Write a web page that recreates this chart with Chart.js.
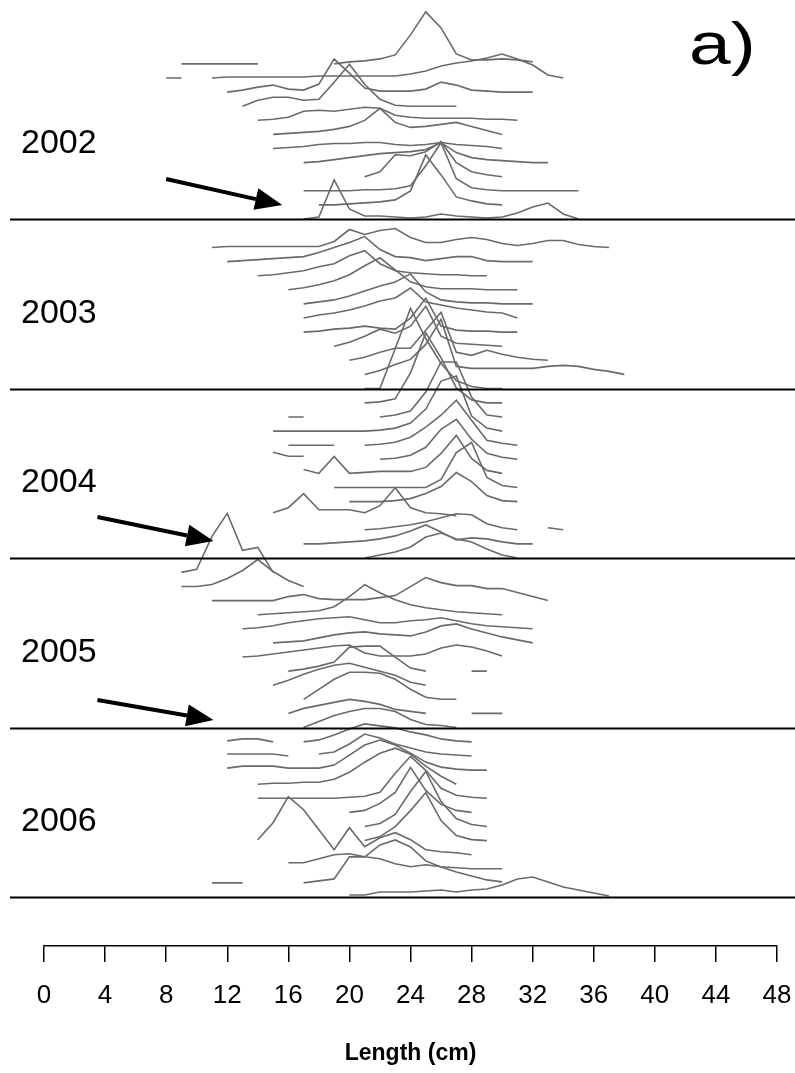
<!DOCTYPE html>
<html lang="en">
<head>
<meta charset="UTF-8">
<title>Length frequency by month, 2002-2006</title>
<script src="https://cdn.jsdelivr.net/npm/chart.js"></script>
<style>
  body { margin: 0; background: #fff; }
  #wrap { width: 795px; height: 1073px; }
</style>
</head>
<body>
<div id="wrap"><canvas id="chart" width="795" height="1073"></canvas></div>
<script>
// tick labels on the length axis
const xTicks = [0, 4, 8, 12, 16, 20, 24, 28, 32, 36, 40, 44, 48];
const years = ['2002', '2003', '2004', '2005', '2006'];

// one ridge per month: first length class (cm) and the frequency of every 1-cm class after it
// null = empty class where the line breaks
const start2002 = [9, 8, 12, 13, 14, 15, 15, 17, 21, 17, 18, 17];
const freq2002 = [
  [0,0,0,0,0,0,null,null,null,null,0,2,3,5,9,29,52,36,10,4,4,5,4,2],
  [0,0,null,0,1,1,1,1,1,1,2,2,2,2,2,2,4,7,12,15,17,20,24,19,13,3,0],
  [0,2,5,7,3,2,8,33,19,4,1,1,1,3,10,7,2,1,0,0,0],
  [0,6,9,9,6,7,24,42,22,7,1,0,0,0,0],
  [0,1,3,9,10,9,11,13,12,5,3,2,2,2,2,1,1,0],
  [0,1,2,3,5,8,14,26,12,7,8,10,12,8,4,0],
  [0,1,2,4,5,5,6,6,4,3,4,6,4,3,2,0],
  [0,1,3,5,7,9,10,11,13,20,10,5,3,2,1,0,0],
  [0,5,22,21,25,35,14,5,2,0],
  [0,0,0,0,1,1,2,5,25,48,12,3,1,0,0,0,0,0,0],
  [0,0,1,2,3,5,14,50,30,8,4,1,0],
  [0,2,39,10,3,3,2,1,2,5,3,2,1,2,6,12,16,5,0]
];

const start2003 = [null, 11, 12, 14, 16, 17, 17, 17, 19, 20, 21, 21];
const freq2003 = [
  [],
  [0,1,1,1,1,1,1,1,6,18,13,17,19,10,5,5,8,10,8,4,2,4,7,7,3,1,0],
  [0,1,2,3,4,5,9,14,19,25,12,5,4,1,3,5,5,1,0,0,0],
  [0,1,3,5,9,12,20,25,12,5,3,2,1,1,0,0],
  [0,2,5,9,15,24,32,20,8,3,1,1,1,0,0,0],
  [0,2,4,8,13,18,22,30,12,4,2,1,1,0,0,0],
  [0,3,5,8,12,17,20,30,16,13,10,8,6,5,0],
  [0,1,3,4,6,4,3,14,34,6,2,1,1,0,0],
  [0,4,10,17,13,20,40,10,3,2,1,0],
  [0,3,8,12,12,30,48,8,5,10,6,3,1,0],
  [0,4,10,15,30,55,8,6,6,6,6,6,8,9,8,5,3,0],
  [0,0,40,80,50,25,8,2,0,0]
];

const start2004 = [21, 16, 15, 16, 15, 17, 19, 20, 15, 21, 17, 21];
const freq2004 = [
  [0,1,4,30,70,45,15,3,0,0],
  [0,0,null,null,null,null,0,2,6,25,55,55,20,2,0],
  [0,0,0,0,0,0,0,1,3,8,22,50,55,15,3,0],
  [0,0,0,0,null,0,1,3,8,18,30,45,25,5,2,0],
  [7,3,3,null,null,null,null,0,1,4,12,30,40,20,6,2,0],
  [4,0,17,0,1,2,2,2,6,20,38,15,3,0],
  [0,0,0,0,0,0,0,8,35,45,10,2,0],
  [0,0,0,1,3,8,15,29,20,6,1,0],
  [3,8,22,6,6,6,3,10,28,8,3,2,0],
  [0,1,3,5,8,12,16,15,6,2,0,null,2,0],
  [0,0,1,2,3,5,8,13,19,12,4,6,5,2,0,0],
  [0,3,6,11,21,25,19,16,9,3,0]
];

const start2005 = [9, 9, 11, 14, 13, 15, 13, 16, 15, 17, 16, 17];
const freq2005 = [
  [0,3,36,59,22,25,0],
  [0,0,2,8,16,27,15,6,0],
  [0,0,0,0,0,4,6,2,1,1,1,3,5,14,23,18,15,15,12,12,8,4,0],
  [0,1,2,3,4,8,18,30,22,15,10,7,5,3,2,1,0],
  [0,1,3,6,8,10,11,12,9,6,6,8,9,11,8,5,3,2,1,0],
  [0,1,2,5,8,10,11,9,8,7,11,17,19,14,10,6,3,0],
  [0,1,3,5,7,9,11,12,4,1,1,1,3,9,12,10,6,1],
  [0,2,5,9,24,25,25,14,3,0,null,null,0,0],
  [0,5,11,16,20,22,18,14,10,3,0],
  [0,10,20,27,27,26,20,10,2,0,0],
  [0,5,8,11,14,12,9,4,2,0,null,null,0,0,0],
  [0,6,12,16,19,19,16,8,3,2,0]
];

const start2006 = [12, 12, 12, 14, 14, 20, 21, 21, 14, 16, 11, 20];
const freq2006 = [
  [1,3,3,0,null,0,2,7,13,18,16,14,10,7,3,1,0],
  [2,2,2,2,0,null,2,4,12,22,18,12,8,4,2,1,0],
  [2,4,4,4,2,2,2,5,15,25,30,25,17,8,3,1,0,0],
  [0,1,1,2,2,5,12,22,31,36,30,18,8,0],
  [0,0,0,0,0,0,1,2,6,25,42,28,10,3,1,0],
  [0,2,9,20,45,22,8,2,0],
  [0,3,12,35,55,25,8,2,0],
  [0,4,14,30,48,20,5,1,0],
  [15,32,58,45,25,5,27,8,17,22,15,5,3,2,0],
  [6,6,10,14,15,12,10,5,2,4,2,1,0,0,0],
  [0,0,0,null,null,null,0,2,4,26,26,38,43,36,22,16,11,7,3,1],
  [2,2,5,5,5,6,7,5,7,8,12,18,20,15,10,7,4,1]
];

const starts = [start2002, start2003, start2004, start2005, start2006];
const freqs = [freq2002, freq2003, freq2004, freq2005, freq2006];

// vertical stacking: every year gets a band, every month a row inside it
const yearGap = 169.5;
const monthGap = 14.1;
const bottomSep = 49;
const sepOf = i => bottomSep + (4 - i) * yearGap;
const baseOf = (i, k) => sepOf(i) + (11 - k) * monthGap;

const datasets = [];
freqs.forEach((yearFreq, i) => {
  yearFreq.forEach((f, k) => {
    const s = starts[i][k];
    if (s === null) return;
    datasets.push({
      label: years[i] + '-' + (k + 1),
      data: f.map((v, j) => ({ x: s + j, y: v === null ? null : baseOf(i, k) + v })),
      borderColor: '#6a6a6a',
      borderWidth: 1.6,
      pointRadius: 0,
      tension: 0,
      spanGaps: false
    });
  });
});

function arrow(ctx, x1, y1, x2, y2) {
  const a = Math.atan2(y2 - y1, x2 - x1);
  const L = 27, W = 11;
  const bx = x2 - L * Math.cos(a), by = y2 - L * Math.sin(a);
  ctx.beginPath();
  ctx.moveTo(x1, y1);
  ctx.lineTo(bx, by);
  ctx.lineWidth = 4;
  ctx.stroke();
  ctx.beginPath();
  ctx.moveTo(x2, y2);
  ctx.lineTo(bx + W * Math.sin(a), by - W * Math.cos(a));
  ctx.lineTo(bx - W * Math.sin(a), by + W * Math.cos(a));
  ctx.closePath();
  ctx.fill();
}

const decorations = {
  id: 'decorations',
  afterDatasetsDraw(chart) {
    const ctx = chart.ctx;
    const sx = chart.scales.x, sy = chart.scales.y;
    ctx.save();
    ctx.strokeStyle = '#000';
    ctx.fillStyle = '#000';
    years.forEach((yr, i) => {
      const py = Math.round(sy.getPixelForValue(sepOf(i))) + 0.5;
      ctx.lineWidth = 1.8;
      ctx.beginPath();
      ctx.moveTo(10, py);
      ctx.lineTo(chart.width, py);
      ctx.stroke();
      ctx.font = '34px "Liberation Sans", Arial, sans-serif';
      ctx.textBaseline = 'alphabetic';
      ctx.fillText(yr, 21, py - 67);
    });
    // arrows pointing at the recruit modes
    const P = (cm, v) => [sx.getPixelForValue(cm), sy.getPixelForValue(v)];
    const arrows = [[8.0, 767, 15.6, 741], [3.5, 429, 11.1, 405], [3.5, 246, 11.1, 226]];
    arrows.forEach(([c1, v1, c2, v2]) => {
      const [x1, y1] = P(c1, v1), [x2, y2] = P(c2, v2);
      arrow(ctx, x1, y1, x2, y2);
    });
    ctx.save();
    ctx.translate(689, 64);
    ctx.scale(1.25, 1);
    ctx.font = '60px "Liberation Sans", Arial, sans-serif';
    ctx.fillText('a)', 0, 0);
    ctx.restore();
    ctx.restore();
  }
};

new Chart(document.getElementById('chart'), {
  type: 'line',
  data: { datasets },
  options: {
    responsive: false,
    animation: false,
    layout: { padding: { left: 44, right: 18, top: 0, bottom: 0 } },
    plugins: { legend: { display: false }, tooltip: { enabled: false } },
    scales: {
      x: {
        type: 'linear',
        min: 0,
        max: 48,
        afterBuildTicks: s => { s.ticks = xTicks.map(v => ({ value: v })); },
        afterFit: s => { s.height = 127; s.paddingLeft = 0; s.paddingRight = 0; },
        grid: { drawOnChartArea: false, drawTicks: true, tickLength: 16, color: '#000', lineWidth: 1.5 },
        border: { display: true, color: '#000', width: 1.5 },
        ticks: {
          color: '#000',
          padding: 18,
          maxRotation: 0,
          autoSkip: false,
          font: { family: '"Liberation Sans", Arial, sans-serif', size: 26 }
        },
        title: {
          display: true,
          text: 'Length (cm)',
          color: '#000',
          font: { family: '"Liberation Sans", Arial, sans-serif', size: 23, weight: 'bold' },
          padding: { top: 0, bottom: 6 }
        }
      },
      y: { display: false, min: 0, max: 946 }
    }
  },
  plugins: [decorations]
});
</script>
</body>
</html>
